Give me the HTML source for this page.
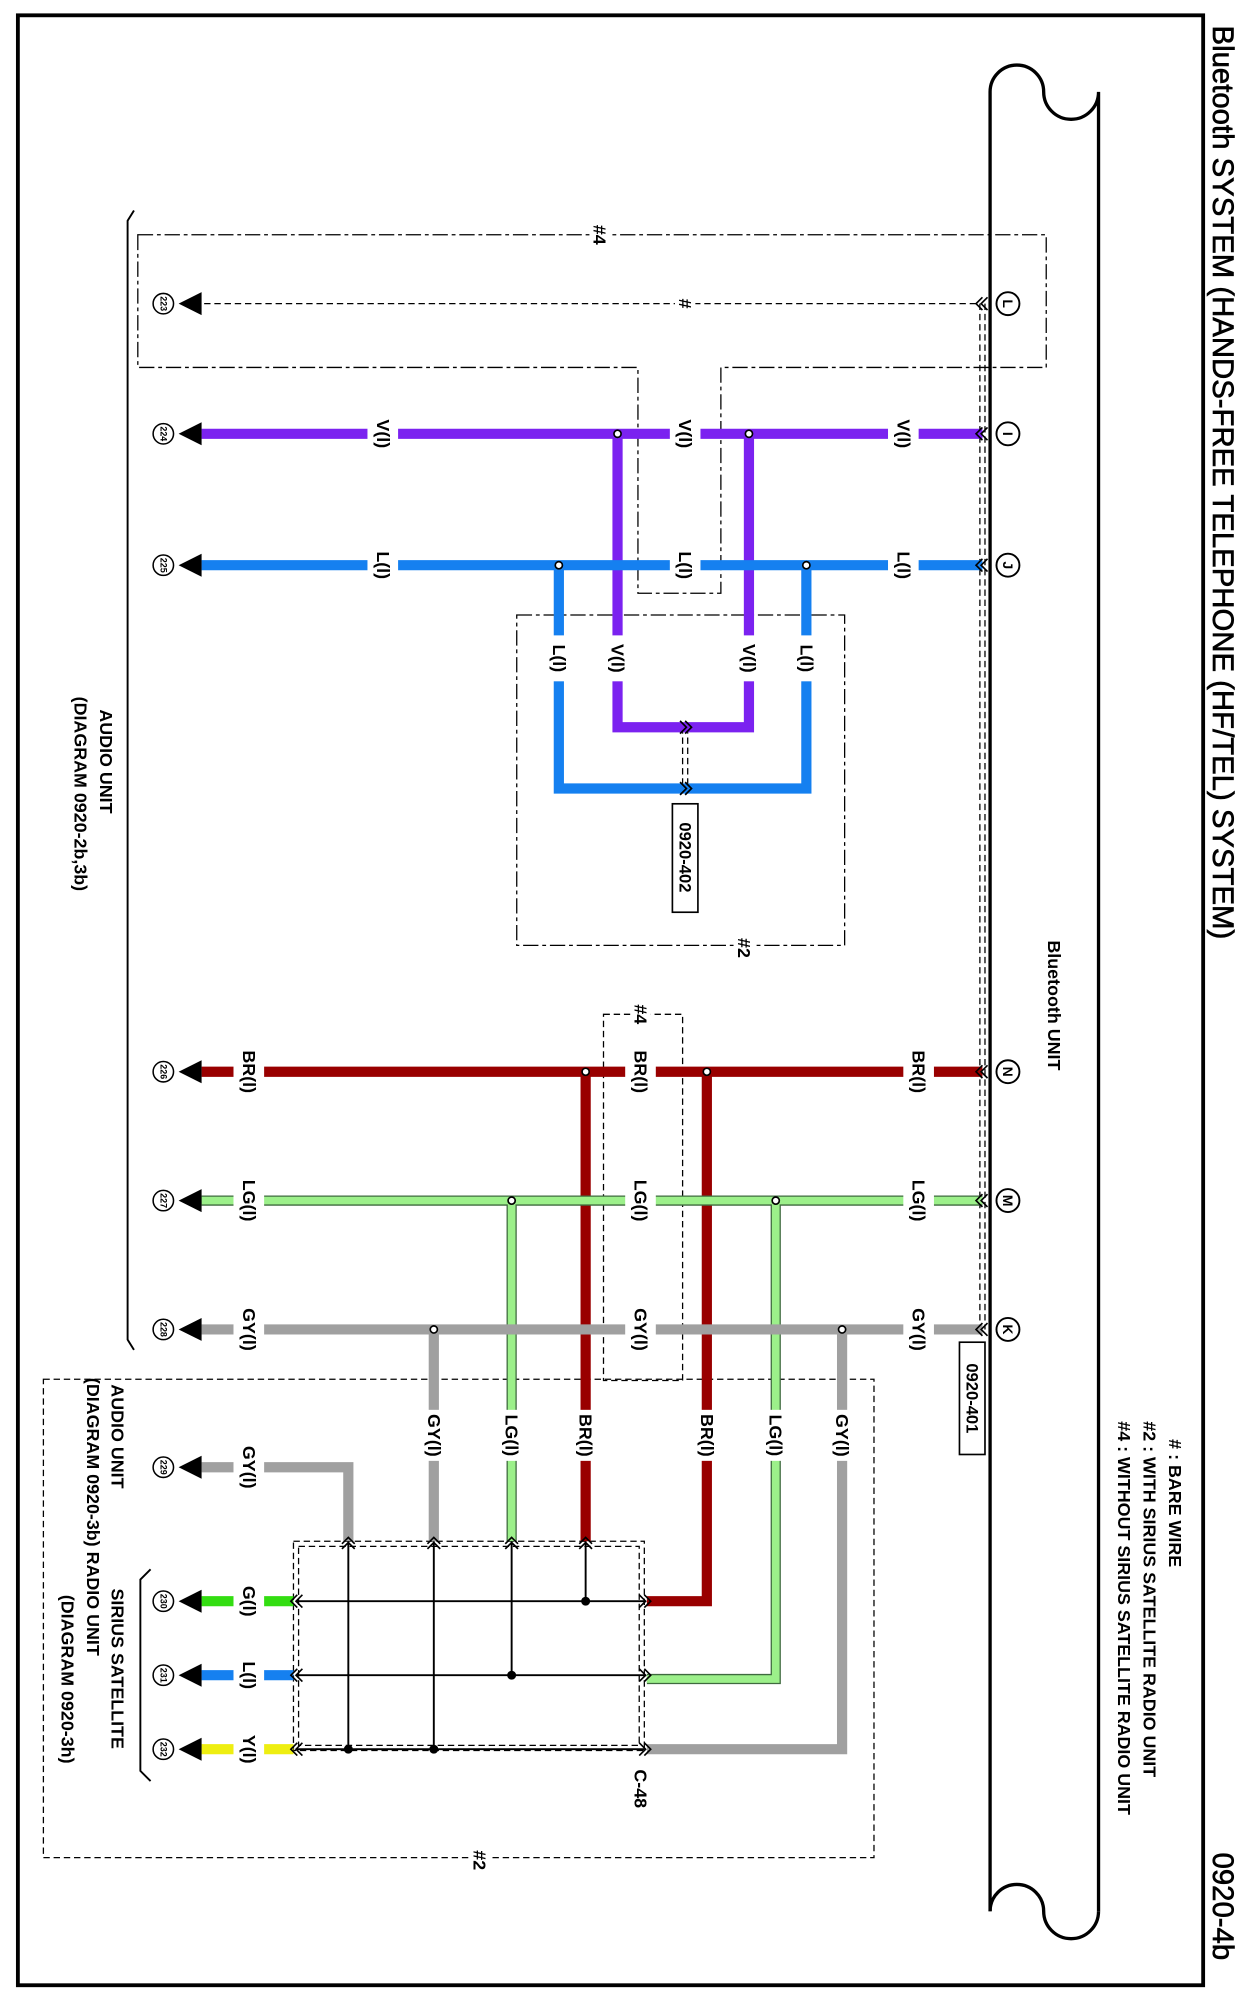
<!DOCTYPE html>
<html><head><meta charset="utf-8"><style>
html,body{margin:0;padding:0;background:#fff}
svg{display:block}
text{font-family:"Liberation Sans",Arial,sans-serif;font-weight:bold;fill:#000}
</style></head><body>
<svg width="1244" height="1998" viewBox="0 0 975 1566" xmlns="http://www.w3.org/2000/svg">
<defs>
<g id="chL"><path d="M4,-5 L-1,0 L4,5 M8,-5 L3,0 L8,5" fill="none" stroke="#000" stroke-width="1.3"/></g>
<g id="chR"><path d="M-4,-5 L1,0 L-4,5 M-8,-5 L-3,0 L-8,5" fill="none" stroke="#000" stroke-width="1.3"/></g>
<g id="chU"><path d="M-5,4 L0,-1 L5,4 M-5,8 L0,3 L5,8" fill="none" stroke="#000" stroke-width="1.3"/></g>
</defs>
<rect x="14" y="12" width="929" height="1544" fill="none" stroke="#000" stroke-width="3"/>
<text transform="translate(958,20) rotate(90)" font-size="23" dominant-baseline="central" style="font-weight:normal;stroke:#000;stroke-width:0.5">Bluetooth SYSTEM (HANDS-FREE TELEPHONE (HF/TEL) SYSTEM)</text>
<text transform="translate(958,1452) rotate(90)" font-size="23" dominant-baseline="central" style="font-weight:normal;stroke:#000;stroke-width:0.5">0920-4b</text>

<!-- Bluetooth unit outline -->
<path d="M776,1498 L776,72 A21,21 0 0 1 818,72 A21,21 0 0 0 861,72 L861,1498" fill="none" stroke="#000" stroke-width="2.6"/>
<path d="M776,1498 A21,21 0 0 1 818,1498 A21,21 0 0 0 861,1498" fill="none" stroke="#000" stroke-width="2.6"/>
<text transform="translate(826,788) rotate(90)" font-size="14" text-anchor="middle" dominant-baseline="central">Bluetooth UNIT</text>
<text transform="translate(921,1128) rotate(90)" font-size="14" dominant-baseline="central"># : BARE WIRE</text>
<text transform="translate(901,1114) rotate(90)" font-size="14" dominant-baseline="central">#2 : WITH SIRIUS SATELLITE RADIO UNIT</text>
<text transform="translate(881,1114) rotate(90)" font-size="14" dominant-baseline="central">#4 : WITHOUT SIRIUS SATELLITE RADIO UNIT</text>

<!-- dash-dot boxes -->
<g fill="none" stroke="#000" stroke-width="1" stroke-dasharray="12,3,3,3">
<path d="M108,184 L820,184 L820,288 L565,288 L565,465 L500,465 L500,288 L108,288 Z"/>
<rect x="405" y="482" width="257" height="259"/>
</g>
<g fill="none" stroke="#000" stroke-width="1" stroke-dasharray="5,3">
<rect x="473" y="795" width="62" height="287"/>
<rect x="34" y="1081" width="651" height="375"/>
<rect x="230" y="1208" width="275" height="164"/>
<rect x="234" y="1212" width="267" height="156"/>
<path d="M768,238 L768,1042 M772,238 L772,1042"/>
<path d="M160,238 L766,238"/>
<path d="M535,570 L535,618 M539,570 L539,618"/>
</g>
<rect x="462" y="174" width="16" height="20" fill="#fff"/>
<text transform="translate(470,184) rotate(90)" font-size="14" text-anchor="middle" dominant-baseline="central">#4</text>
<rect x="529" y="229" width="16" height="18" fill="#fff"/>
<text transform="translate(537,238) rotate(90)" font-size="14" text-anchor="middle" dominant-baseline="central">#</text>
<rect x="575" y="733" width="16" height="20" fill="#fff"/>
<text transform="translate(583,743) rotate(90)" font-size="14" text-anchor="middle" dominant-baseline="central">#2</text>
<rect x="494" y="785" width="16" height="20" fill="#fff"/>
<text transform="translate(502,795) rotate(90)" font-size="14" text-anchor="middle" dominant-baseline="central">#4</text>
<rect x="368" y="1448" width="16" height="20" fill="#fff"/>
<text transform="translate(376,1458) rotate(90)" font-size="14" text-anchor="middle" dominant-baseline="central">#2</text>

<g fill="none" stroke="#7b22f0" stroke-width="8">
<path d="M158,340 L770,340"/>
<path d="M484,340 L484,570 L587,570 L587,340"/>
</g>
<g fill="none" stroke="#1580f0" stroke-width="8">
<path d="M158,443 L770,443"/>
<path d="M438,443 L438,618 L632,618 L632,443"/>
</g>
<g fill="none" stroke="#990000" stroke-width="8">
<path d="M158,840 L770,840"/>
<path d="M459,840 L459,1208"/>
<path d="M554,840 L554,1255 L507,1255"/>
</g>
<g fill="none" stroke="#3f6a3f" stroke-width="8">
<path d="M158,941 L770,941"/><path d="M401,941 L401,1208"/><path d="M608,941 L608,1316 L507,1316"/>
</g>
<g fill="none" stroke="#9cf08a" stroke-width="6">
<path d="M158,941 L770,941"/><path d="M401,941 L401,1208"/><path d="M608,941 L608,1316 L507,1316"/>
</g>
<g fill="none" stroke="#a0a0a0" stroke-width="8">
<path d="M158,1042 L770,1042"/>
<path d="M340,1042 L340,1208"/>
<path d="M660,1042 L660,1371 L507,1371"/>
<path d="M158,1150 L273,1150 L273,1208"/>
</g>
<path d="M158,1255 L230,1255" stroke="#33dd11" stroke-width="8"/>
<path d="M158,1313 L230,1313" stroke="#1580f0" stroke-width="8"/>
<path d="M158,1371 L230,1371" stroke="#eeee11" stroke-width="8"/>

<g stroke="#000" stroke-width="1.5" fill="none">
<path d="M232,1255 L505,1255 M232,1313 L505,1313 M232,1371 L505,1371"/>
<path d="M273,1208 L273,1371 M340,1208 L340,1371 M401,1208 L401,1313 M459,1208 L459,1255"/>
</g>
<g fill="#000">
<circle cx="459" cy="1255" r="3.5"/><circle cx="401" cy="1313" r="3.5"/><circle cx="273" cy="1371" r="3.5"/><circle cx="340" cy="1371" r="3.5"/>
</g>

<g fill="#fff">
<rect x="288" y="320" width="24" height="40"/><rect x="525" y="320" width="24" height="40"/><rect x="696" y="320" width="24" height="40"/>
<rect x="288" y="423" width="24" height="40"/><rect x="525" y="423" width="24" height="40"/><rect x="696" y="423" width="24" height="40"/>
<rect x="474" y="498" width="20" height="36"/><rect x="577" y="498" width="20" height="36"/><rect x="428" y="498" width="20" height="36"/><rect x="622" y="498" width="20" height="36"/>
<rect x="183" y="820" width="24" height="40"/><rect x="490" y="820" width="24" height="40"/><rect x="708" y="820" width="24" height="40"/>
<rect x="183" y="921" width="24" height="40"/><rect x="490" y="921" width="24" height="40"/><rect x="708" y="921" width="24" height="40"/>
<rect x="183" y="1022" width="24" height="40"/><rect x="490" y="1022" width="24" height="40"/><rect x="708" y="1022" width="24" height="40"/>
<rect x="330" y="1105" width="20" height="40"/><rect x="391" y="1105" width="20" height="40"/><rect x="449" y="1105" width="20" height="40"/>
<rect x="544" y="1105" width="20" height="40"/><rect x="598" y="1105" width="20" height="40"/><rect x="650" y="1105" width="20" height="40"/>
<rect x="183" y="1130" width="24" height="40"/>
<rect x="183" y="1235" width="24" height="40"/><rect x="183" y="1293" width="24" height="40"/><rect x="183" y="1351" width="24" height="40"/>
</g>
<g font-size="14" text-anchor="middle">
<text transform="translate(300,340) rotate(90)" dominant-baseline="central">V(l)</text>
<text transform="translate(537,340) rotate(90)" dominant-baseline="central">V(l)</text>
<text transform="translate(708,340) rotate(90)" dominant-baseline="central">V(l)</text>
<text transform="translate(300,443) rotate(90)" dominant-baseline="central">L(l)</text>
<text transform="translate(537,443) rotate(90)" dominant-baseline="central">L(l)</text>
<text transform="translate(708,443) rotate(90)" dominant-baseline="central">L(l)</text>
<text transform="translate(484,516) rotate(90)" dominant-baseline="central">V(l)</text>
<text transform="translate(587,516) rotate(90)" dominant-baseline="central">V(l)</text>
<text transform="translate(438,516) rotate(90)" dominant-baseline="central">L(l)</text>
<text transform="translate(632,516) rotate(90)" dominant-baseline="central">L(l)</text>
<text transform="translate(195,840) rotate(90)" dominant-baseline="central">BR(l)</text>
<text transform="translate(502,840) rotate(90)" dominant-baseline="central">BR(l)</text>
<text transform="translate(720,840) rotate(90)" dominant-baseline="central">BR(l)</text>
<text transform="translate(195,941) rotate(90)" dominant-baseline="central">LG(l)</text>
<text transform="translate(502,941) rotate(90)" dominant-baseline="central">LG(l)</text>
<text transform="translate(720,941) rotate(90)" dominant-baseline="central">LG(l)</text>
<text transform="translate(195,1042) rotate(90)" dominant-baseline="central">GY(l)</text>
<text transform="translate(502,1042) rotate(90)" dominant-baseline="central">GY(l)</text>
<text transform="translate(720,1042) rotate(90)" dominant-baseline="central">GY(l)</text>
<text transform="translate(340,1125) rotate(90)" dominant-baseline="central">GY(l)</text>
<text transform="translate(401,1125) rotate(90)" dominant-baseline="central">LG(l)</text>
<text transform="translate(459,1125) rotate(90)" dominant-baseline="central">BR(l)</text>
<text transform="translate(554,1125) rotate(90)" dominant-baseline="central">BR(l)</text>
<text transform="translate(608,1125) rotate(90)" dominant-baseline="central">LG(l)</text>
<text transform="translate(660,1125) rotate(90)" dominant-baseline="central">GY(l)</text>
<text transform="translate(195,1150) rotate(90)" dominant-baseline="central">GY(l)</text>
<text transform="translate(195,1255) rotate(90)" dominant-baseline="central">G(l)</text>
<text transform="translate(195,1313) rotate(90)" dominant-baseline="central">L(l)</text>
<text transform="translate(195,1371) rotate(90)" dominant-baseline="central">Y(l)</text>
<text transform="translate(502,1402) rotate(90)" dominant-baseline="central">C-48</text>
</g>

<g fill="#fff" stroke="#000" stroke-width="1.3">
<circle cx="484" cy="340" r="2.8"/><circle cx="587" cy="340" r="2.8"/>
<circle cx="438" cy="443" r="2.8"/><circle cx="632" cy="443" r="2.8"/>
<circle cx="459" cy="840" r="2.8"/><circle cx="554" cy="840" r="2.8"/>
<circle cx="401" cy="941" r="2.8"/><circle cx="608" cy="941" r="2.8"/>
<circle cx="340" cy="1042" r="2.8"/><circle cx="660" cy="1042" r="2.8"/>
</g>

<rect x="527" y="630" width="20" height="85" fill="#fff" stroke="#000" stroke-width="1.3"/>
<text transform="translate(537,672) rotate(90)" font-size="13" text-anchor="middle" dominant-baseline="central">0920-402</text>
<rect x="752" y="1052" width="20" height="88" fill="#fff" stroke="#000" stroke-width="1.3"/>
<text transform="translate(762,1096) rotate(90)" font-size="13" text-anchor="middle" dominant-baseline="central">0920-401</text>

<use href="#chL" x="766" y="238"/><use href="#chL" x="766" y="340"/><use href="#chL" x="766" y="443"/>
<use href="#chL" x="766" y="840"/><use href="#chL" x="766" y="941"/><use href="#chL" x="766" y="1042"/>
<use href="#chR" x="541" y="570"/><use href="#chR" x="541" y="618"/>
<use href="#chU" x="273" y="1206"/><use href="#chU" x="340" y="1206"/><use href="#chU" x="401" y="1206"/><use href="#chU" x="459" y="1206"/>
<use href="#chR" x="509" y="1255"/><use href="#chR" x="509" y="1313"/><use href="#chR" x="509" y="1371"/>
<use href="#chL" x="229" y="1255"/><use href="#chL" x="229" y="1313"/><use href="#chL" x="229" y="1371"/>

<g fill="#fff" stroke="#000" stroke-width="1.5">
<circle cx="790" cy="238" r="9"/><circle cx="790" cy="340" r="9"/><circle cx="790" cy="443" r="9"/>
<circle cx="790" cy="840" r="9"/><circle cx="790" cy="941" r="9"/><circle cx="790" cy="1042" r="9"/>
</g>
<g font-size="11" text-anchor="middle">
<text transform="translate(790,238) rotate(90)" dominant-baseline="central">L</text>
<text transform="translate(790,340) rotate(90)" dominant-baseline="central">I</text>
<text transform="translate(790,443) rotate(90)" dominant-baseline="central">J</text>
<text transform="translate(790,840) rotate(90)" dominant-baseline="central">N</text>
<text transform="translate(790,941) rotate(90)" dominant-baseline="central">M</text>
<text transform="translate(790,1042) rotate(90)" dominant-baseline="central">K</text>
</g>

<g fill="#000">
<path d="M140,238 L158,229 L158,247 Z"/><path d="M140,340 L158,331 L158,349 Z"/><path d="M140,443 L158,434 L158,452 Z"/>
<path d="M140,840 L158,831 L158,849 Z"/><path d="M140,941 L158,932 L158,950 Z"/><path d="M140,1042 L158,1033 L158,1051 Z"/>
<path d="M140,1150 L158,1141 L158,1159 Z"/><path d="M140,1255 L158,1246 L158,1264 Z"/><path d="M140,1313 L158,1304 L158,1322 Z"/><path d="M140,1371 L158,1362 L158,1380 Z"/>
</g>
<g fill="#fff" stroke="#000" stroke-width="1.2">
<circle cx="128" cy="238" r="8"/><circle cx="128" cy="340" r="8"/><circle cx="128" cy="443" r="8"/>
<circle cx="128" cy="840" r="8"/><circle cx="128" cy="941" r="8"/><circle cx="128" cy="1042" r="8"/>
<circle cx="128" cy="1150" r="8"/><circle cx="128" cy="1255" r="8"/><circle cx="128" cy="1313" r="8"/><circle cx="128" cy="1371" r="8"/>
</g>
<g font-size="7" text-anchor="middle">
<text transform="translate(128,238) rotate(90)" dominant-baseline="central">223</text>
<text transform="translate(128,340) rotate(90)" dominant-baseline="central">224</text>
<text transform="translate(128,443) rotate(90)" dominant-baseline="central">225</text>
<text transform="translate(128,840) rotate(90)" dominant-baseline="central">226</text>
<text transform="translate(128,941) rotate(90)" dominant-baseline="central">227</text>
<text transform="translate(128,1042) rotate(90)" dominant-baseline="central">228</text>
<text transform="translate(128,1150) rotate(90)" dominant-baseline="central">229</text>
<text transform="translate(128,1255) rotate(90)" dominant-baseline="central">230</text>
<text transform="translate(128,1313) rotate(90)" dominant-baseline="central">231</text>
<text transform="translate(128,1371) rotate(90)" dominant-baseline="central">232</text>
</g>

<path d="M105,165 L100,173 L100,1050 L105,1058" fill="none" stroke="#000" stroke-width="1.5"/>
<path d="M118,1230 L110,1238 L110,1388 L118,1396" fill="none" stroke="#000" stroke-width="1.5"/>
<g font-size="14">
<text transform="translate(83,556) rotate(90)" dominant-baseline="central">AUDIO UNIT</text>
<text transform="translate(63,546) rotate(90)" dominant-baseline="central">(DIAGRAM  0920-2b,3b)</text>
<text transform="translate(92,1085) rotate(90)" dominant-baseline="central">AUDIO UNIT</text>
<text transform="translate(73,1080) rotate(90)" dominant-baseline="central">(DIAGRAM  0920-3b)  RADIO UNIT</text>
<text transform="translate(92,1245) rotate(90)" dominant-baseline="central">SIRIUS SATELLITE</text>
<text transform="translate(53,1250) rotate(90)" dominant-baseline="central">(DIAGRAM  0920-3h)</text>
</g>
</svg>
</body></html>
